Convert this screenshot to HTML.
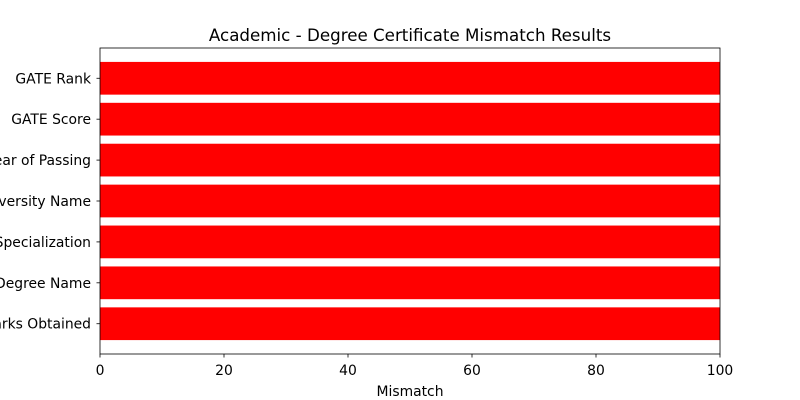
<!DOCTYPE html>
<html><head><meta charset="utf-8"><style>
body{margin:0;background:#fff;}
svg{display:block;font-family:"DejaVu Sans","Liberation Sans",sans-serif;}
</style></head><body>
<svg id="chart" width="800" height="400"></svg>
<script>
const categories = ["Marks Obtained","Degree Name","Specialization","University Name","Year of Passing","GATE Score","GATE Rank"];
const values = [100,100,100,100,100,100,100];
const xTicks = [0,20,40,60,80,100];

const NS="http://www.w3.org/2000/svg";
const svg=document.getElementById('chart');
const L=100,R=720,T=48,B=354;
const xMin=0,xMax=100;
const yMin=-0.74,yMax=categories.length-1+0.74;
const xs=v=>L+(v-xMin)/(xMax-xMin)*(R-L);
const ys=v=>B-(v-yMin)/(yMax-yMin)*(B-T);
function mk(tag,attrs,text){const e=document.createElementNS(NS,tag);for(const k in attrs)e.setAttribute(k,attrs[k]);if(text!==undefined)e.textContent=text;svg.appendChild(e);return e;}

const title=mk('text',{x:410,y:41,'text-anchor':'middle','font-size':16.7,fill:'#000'},'Academic - Degree Certificate Mismatch Results');



categories.forEach((c,i)=>{
  const y0=ys(i+0.4),y1=ys(i-0.4);
  const r=mk('rect',{x:xs(0),y:y0,width:xs(values[i])-xs(0),height:y1-y0,fill:'#ff0000'});
  
  
  const yc=ys(i);
  mk('line',{x1:L-3.5,x2:L,y1:yc,y2:yc,stroke:'#000','stroke-width':0.8});
  const t=mk('text',{x:L-9,y:yc+5,'text-anchor':'end','font-size':13.9,fill:'#000'},c);
  
  
});

const frame=mk('rect',{x:L,y:T,width:R-L,height:B-T,fill:'none',stroke:'#000','stroke-width':0.8});



xTicks.forEach(v=>{
  const x=xs(v);
  mk('line',{x1:x,x2:x,y1:B,y2:B+3.5,stroke:'#000','stroke-width':0.8});
  const t=mk('text',{x:x,y:B+21,'text-anchor':'middle','font-size':13.9,fill:'#000'},String(v));
  
  
});

const xt=mk('text',{x:410,y:396,'text-anchor':'middle','font-size':13.9,fill:'#000'},'Mismatch');


</script>
</body></html>
